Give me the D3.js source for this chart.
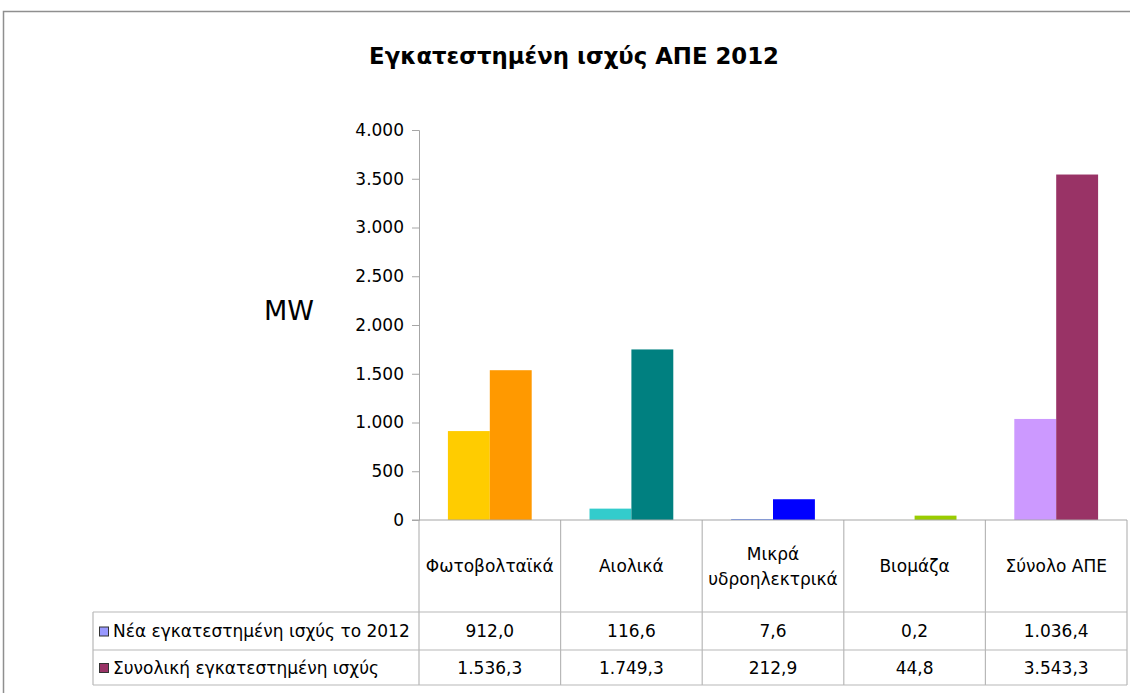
<!DOCTYPE html>
<html>
<head>
<meta charset="utf-8">
<script src="https://cdn.jsdelivr.net/npm/d3@7"></script>
<style>
  body { margin: 0; background: #fff; }
  svg text { font-family: "DejaVu Sans", "Open Sans", sans-serif; fill: #000; }
</style>
</head>
<body>
<div id="chart"></div>
<script>
// data
var categories = ["Φωτοβολταϊκά", "Αιολικά", "Μικρά υδροηλεκτρικά", "Βιομάζα", "Σύνολο ΑΠΕ"];
var seriesNames = ["Νέα εγκατεστημένη ισχύς το 2012", "Συνολική εγκατεστημένη ισχύς"];
var newCapacity = [912.0, 116.6, 7.6, 0.2, 1036.4];
var totalCapacity = [1536.3, 1749.3, 212.9, 44.8, 3543.3];
var newColors = ["#FFCC00", "#33CCCC", "#3366FF", "#CCFF66", "#CC99FF"];
var totalColors = ["#FF9900", "#008080", "#0000FF", "#99CC00", "#993366"];
var legendColors = ["#9999FF", "#993366"];
var yTicks = [0, 500, 1000, 1500, 2000, 2500, 3000, 3500, 4000];

var width = 1130, height = 693;

var svg = d3.select("#chart")
    .append("svg")
    .attr("width", width)
    .attr("height", height);

// greek number format: 1.536,3
var gr = d3.formatLocale({ decimal: ",", thousands: ".", grouping: [3], currency: ["", "€"] });
var fmtTick = gr.format(",.0f");
var fmtVal = gr.format(",.1f");

// chart frame
svg.append("path")
    .attr("d", "M3.5,700 V11.5 H1140")
    .attr("fill", "none")
    .attr("stroke", "#8f8f8f")
    .attr("stroke-width", 1.5);

// title
svg.append("text")
    .attr("x", 574)
    .attr("y", 64)
    .attr("text-anchor", "middle")
    .style("font-size", "22.8px")
    .style("font-weight", "bold")
    .text("Εγκατεστημένη ισχύς ΑΠΕ 2012");

var x = d3.scaleBand().domain(categories).range([419, 1127]);
var x1 = d3.scaleBand().domain([0, 1]).range([0, x.bandwidth()]).paddingInner(0).paddingOuter(0.69);
var y = d3.scaleLinear().domain([0, 4000]).range([520, 130]);

// y axis
var yAxis = svg.append("g")
    .attr("transform", "translate(419,0)")
    .call(d3.axisLeft(y).tickValues(yTicks).tickFormat(fmtTick).tickSize(7).tickPadding(8));
yAxis.select(".domain").attr("stroke", "#a6a6a6");
yAxis.selectAll(".tick line").attr("stroke", "#a6a6a6");
yAxis.selectAll(".tick text")
    .attr("font-family", null)
    .style("font-size", "17px")
    .attr("fill", "#000");

// unit label
svg.append("text")
    .attr("x", 289)
    .attr("y", 320)
    .attr("text-anchor", "middle")
    .style("font-size", "27px")
    .text("MW");

// bars
var groups = svg.selectAll(".cat")
    .data(categories)
    .enter()
    .append("g")
    .attr("class", "cat")
    .attr("transform", function (d) { return "translate(" + x(d) + ",0)"; });

groups.append("rect")
    .attr("x", x1(0))
    .attr("width", x1.bandwidth())
    .attr("y", function (d, i) { return y(newCapacity[i]); })
    .attr("height", function (d, i) { return y(0) - y(newCapacity[i]); })
    .attr("fill", function (d, i) { return newColors[i]; });

groups.append("rect")
    .attr("x", x1(1))
    .attr("width", x1.bandwidth())
    .attr("y", function (d, i) { return y(totalCapacity[i]); })
    .attr("height", function (d, i) { return y(0) - y(totalCapacity[i]); })
    .attr("fill", function (d, i) { return totalColors[i]; });

// data table
var headTop = 520, row1 = 612, row2 = 650, tableBottom = 685, legendLeft = 93;
var lineColor = "#b8b8b8";
var table = svg.append("g").attr("stroke", lineColor).attr("stroke-width", 1.2);

// vertical lines of the table
var bounds = categories.map(function (d) { return x(d); }).concat([x.range()[1]]);
table.selectAll(".vline")
    .data(bounds)
    .enter()
    .append("line")
    .attr("x1", function (d) { return d; })
    .attr("x2", function (d) { return d; })
    .attr("y1", headTop)
    .attr("y2", tableBottom);

table.append("line").attr("x1", legendLeft).attr("x2", legendLeft).attr("y1", row1).attr("y2", tableBottom);
[row1, row2, tableBottom].forEach(function (yy) {
    table.append("line").attr("x1", legendLeft).attr("x2", x.range()[1]).attr("y1", yy).attr("y2", yy);
});

// x axis line over the table
svg.append("line")
    .attr("x1", 412).attr("x2", x.range()[1])
    .attr("y1", y(0)).attr("y2", y(0))
    .attr("stroke", "#a6a6a6");

// category names (split two-word name onto two lines)
var catText = svg.selectAll(".catlabel")
    .data(categories)
    .enter()
    .append("text")
    .attr("class", "catlabel")
    .attr("text-anchor", "middle")
    .style("font-size", "17px")
    .attr("transform", function (d) { return "translate(" + (x(d) + x.bandwidth() / 2) + ",0)"; });

catText.each(function (d) {
    var words = d === "Μικρά υδροηλεκτρικά" ? d.split(" ") : [d];
    var t = d3.select(this);
    var start = 572 - (words.length - 1) * 12.5;
    words.forEach(function (w, k) {
        t.append("tspan").attr("x", 0).attr("y", start + k * 25).text(w);
    });
});

// legend rows with values
var rows = [newCapacity, totalCapacity];
var rowCenters = [(row1 + row2) / 2, (row2 + tableBottom) / 2];

rows.forEach(function (vals, r) {
    svg.append("rect")
        .attr("x", 99.5)
        .attr("y", rowCenters[r] - 4)
        .attr("width", 9)
        .attr("height", 9)
        .attr("fill", legendColors[r])
        .attr("stroke", "#333")
        .attr("stroke-width", 1);

    svg.append("text")
        .attr("x", 113)
        .attr("y", rowCenters[r] + 6)
        .style("font-size", "17px")
        .text(seriesNames[r]);

    svg.selectAll(".val" + r)
        .data(vals)
        .enter()
        .append("text")
        .attr("class", "val" + r)
        .attr("x", function (d, i) { return x(categories[i]) + x.bandwidth() / 2; })
        .attr("y", rowCenters[r] + 6)
        .attr("text-anchor", "middle")
        .style("font-size", "17px")
        .text(function (d) { return fmtVal(d); });
});
</script>
</body>
</html>
